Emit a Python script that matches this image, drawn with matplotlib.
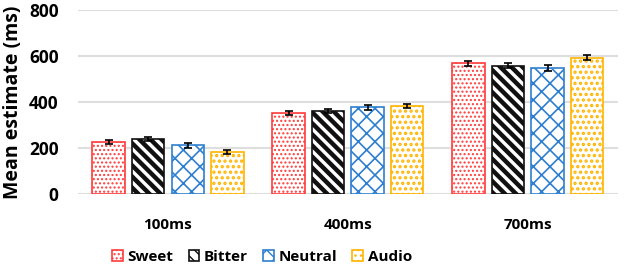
import numpy as np
import matplotlib.pyplot as plt

plt.rcParams['font.family'] = ['Open Sans', 'DejaVu Sans']
plt.rcParams['font.weight'] = 'bold'

durations = ['100ms', '400ms', '700ms']
series = ['Sweet', 'Bitter', 'Neutral', 'Audio']
sweet = [227, 353, 568]
bitter = [239, 362, 558]
neutral = [212, 377, 548]
audio = [184, 381, 592]
sweet_err = [9, 10, 12]
bitter_err = [9, 9, 10]
neutral_err = [10, 11, 11]
audio_err = [8, 9, 11]

values = [sweet, bitter, neutral, audio]
errors = [sweet_err, bitter_err, neutral_err, audio_err]
colors = ['#ff3b3b', '#111111', '#2f7fd0', '#ffb400']
hatches = ['....', '\\\\\\', 'xx', '...']
hatch_lw = [1.0, 3.2, 1.2, 1.6]

fig = plt.figure(figsize=(6.24, 2.65), dpi=100)
ax = fig.add_axes([0.125, 0.268, 0.865, 0.694])

x = np.arange(len(durations))
width = 0.18
step = 0.22
handles = []
for i, name in enumerate(series):
    pos = x + (i - 1.5) * step
    with plt.rc_context({'hatch.linewidth': hatch_lw[i]}):
        bars = ax.bar(pos, values[i], width, facecolor='white', edgecolor=colors[i],
                      hatch=hatches[i], linewidth=1.2, label=name, zorder=2)
    for b in bars:
        if hasattr(b, 'set_hatch_linewidth'):
            b.set_hatch_linewidth(hatch_lw[i])
    ax.errorbar(pos, values[i], yerr=errors[i], fmt='none', ecolor='black',
                elinewidth=1.2, capsize=3, capthick=1.2, zorder=3)
    handles.append(bars)

ax.set_ylim(0, 800)
ax.set_yticks([0, 200, 400, 600, 800])
ax.set_xlim(-0.5, 2.5)
ax.set_xticks(x)
ax.set_xticklabels(durations, fontsize=11, fontweight='bold')
ax.tick_params(axis='y', labelsize=12.5, length=0, pad=14)
ax.tick_params(axis='x', length=0, pad=17)
ax.yaxis.grid(True, color='#dedede', linewidth=1.5, zorder=0)
ax.set_axisbelow(True)
for s in ax.spines.values():
    s.set_visible(False)
ax.set_ylabel('Mean estimate (ms)', fontsize=14, fontweight='bold', labelpad=4)

fig.legend(handles, series, loc='center', bbox_to_anchor=(0.42, 0.03), ncol=4,
           frameon=False, handlelength=0.7, handleheight=0.7, columnspacing=1.0,
           handletextpad=0.3, prop={'size': 11, 'weight': 'bold'})

fig.savefig('out.png', dpi=100)
